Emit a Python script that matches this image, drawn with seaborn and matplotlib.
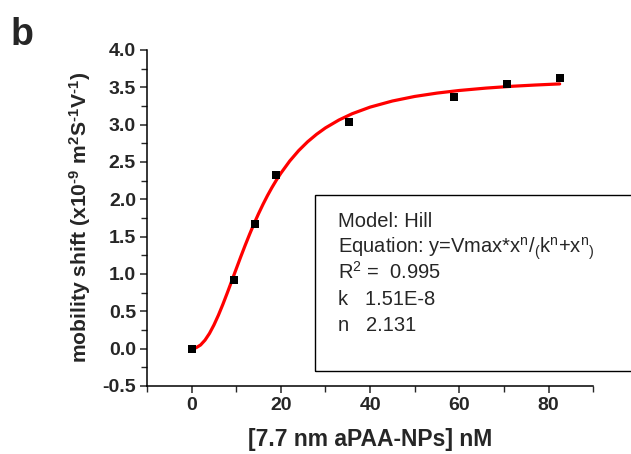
import matplotlib
matplotlib.use("Agg")
import matplotlib.pyplot as plt
import seaborn as sns
import pandas as pd
from matplotlib.patches import Rectangle
from matplotlib.ticker import MultipleLocator, FormatStrFormatter


# measured points
conc_nM = [0, 9.4, 14.2, 18.8, 35.3, 58.9, 70.7, 82.5]
shift = [0.0, 0.92, 1.67, 2.33, 3.03, 3.37, 3.54, 3.62]

# Hill fit curve
fit_x = [0, 1, 2, 3, 4, 5, 6, 7, 8, 9, 10, 11, 12, 13, 14, 15, 16, 17, 18,
         19, 20, 22, 24, 26, 28, 30, 33, 36, 40, 45, 50, 55, 60, 66, 72,
         77, 82.5]
fit_y = [0.0, 0.011, 0.048, 0.113, 0.203, 0.316, 0.447, 0.592, 0.747,
         0.907, 1.068, 1.228, 1.383, 1.532, 1.674, 1.807, 1.932, 2.049,
         2.157, 2.257, 2.349, 2.513, 2.652, 2.770, 2.870, 2.956, 3.061,
         3.146, 3.234, 3.316, 3.377, 3.422, 3.457, 3.489, 3.514, 3.530,
         3.545]

box_lines = [
    "Model: Hill",
    r"Equation: y=Vmax*x$^{n}$/$_{(}$k$^{n}$+x$^{n}$$_{)}$",
    r"R$^{2}$ =  0.995",
    "k   1.51E-8",
    "n   2.131",
]

sns.set_style("ticks")
plt.rcParams["font.family"] = ["Liberation Sans", "DejaVu Sans"]
plt.rcParams["mathtext.default"] = "regular"

pts = pd.DataFrame({"x": conc_nM, "y": shift})
fit = pd.DataFrame({"x": fit_x, "y": fit_y})

fig = plt.figure(figsize=(6.31, 4.54), dpi=100)
ax = fig.add_axes([0.233, 0.150, 0.707, 0.740])

sns.lineplot(data=fit, x="x", y="y", ax=ax, color="#ff0000", linewidth=2.3,
             zorder=2)
sns.scatterplot(data=pts, x="x", y="y", ax=ax, marker="s", s=34,
                color="black", edgecolor="black", linewidth=0, zorder=3)

ax.set_xlim(-10, 90)
ax.set_ylim(-0.5, 4.0)
ax.xaxis.set_major_locator(MultipleLocator(20))
ax.xaxis.set_minor_locator(MultipleLocator(10))
ax.yaxis.set_major_locator(MultipleLocator(0.5))
ax.yaxis.set_minor_locator(MultipleLocator(0.25))
ax.yaxis.set_major_formatter(FormatStrFormatter("%.1f"))
sns.despine(ax=ax)
for s in ["left", "bottom"]:
    ax.spines[s].set_linewidth(1.1)
    ax.spines[s].set_color("black")
ax.tick_params(which="major", direction="out", length=5, width=1.1,
               labelsize=14, pad=3)
ax.tick_params(which="minor", direction="out", length=4, width=1.0)
for lab in ax.get_xticklabels() + ax.get_yticklabels():
    lab.set_fontweight("bold")

ax.set_xlabel("[7.7 nm aPAA-NPs] nM", fontsize=16.5, fontweight="bold",
              labelpad=10)
ax.set_ylabel("mobility shift (x10$^{\u20109}$ m$^{2}$S$^{\u20101}$V$^{\u20101}$)",
              fontsize=15.2, fontweight="bold", labelpad=7)

fig.text(0.016, 1 - 45 / 454, "b", fontsize=27, fontweight="bold",
         va="baseline")

# fit results box, running off the right edge like the original
box = Rectangle((315 / 631, 1 - 371 / 454), 0.6, (371 - 195) / 454,
                transform=fig.transFigure, fill=False, edgecolor="black",
                linewidth=1.0, clip_on=False)
fig.patches.append(box)
y0 = 1 - 227 / 454
for i, line in enumerate(box_lines):
    fig.text(338 / 631, y0 - i * 26 / 454, line, fontsize=14.5,
             va="baseline")

fig.savefig("out.png", dpi=100)
